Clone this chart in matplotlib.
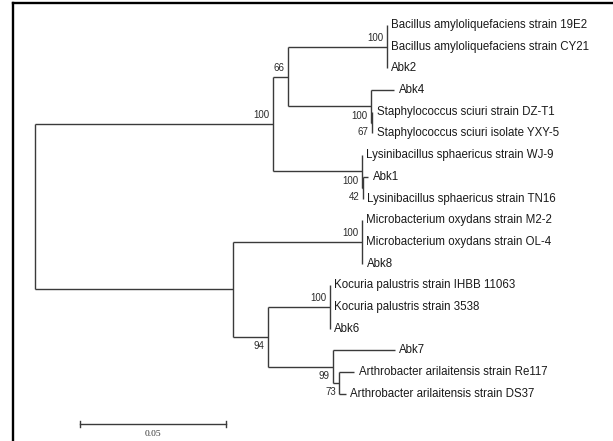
import matplotlib
matplotlib.use('Agg')
from matplotlib import pyplot as plt
from matplotlib.lines import Line2D

# leaves, top to bottom
leaf_names = [
    'Bacillus amyloliquefaciens strain 19E2',
    'Bacillus amyloliquefaciens strain CY21',
    'Abk2',
    'Abk4',
    'Staphylococcus sciuri strain DZ-T1',
    'Staphylococcus sciuri isolate YXY-5',
    'Lysinibacillus sphaericus strain WJ-9',
    'Abk1',
    'Lysinibacillus sphaericus strain TN16',
    'Microbacterium oxydans strain M2-2',
    'Microbacterium oxydans strain OL-4',
    'Abk8',
    'Kocuria palustris strain IHBB 11063',
    'Kocuria palustris strain 3538',
    'Abk6',
    'Abk7',
    'Arthrobacter arilaitensis strain Re117',
    'Arthrobacter arilaitensis strain DS37',
]
leaf_parent = ['bac', 'bac', 'bac', 'sta', 'sta2', 'sta2', 'lys', 'lys2', 'lys2',
               'mic', 'mic', 'mic', 'koc', 'koc', 'koc', 'n99', 'art', 'art']
leaf_length = [0, 0, 0, 0.0079, 0, 0, 0, 0.0018, 0,
               0, 0, 0, 0, 0, 0, 0.0212, 0.0050, 0.0022]

# internal nodes (parents listed before children)
node_names = ['root', 'up', 'n66', 'bac', 'sta', 'sta2', 'lys', 'lys2',
              'low', 'mic', 'n94', 'koc', 'n99', 'art']
node_parent = [None, 'root', 'up', 'n66', 'n66', 'sta', 'up', 'lys',
               'root', 'low', 'low', 'n94', 'n94', 'n99']
node_length = [0, 0.0814, 0.0052, 0.0338, 0.0284, 0.0004, 0.0305, 0.0003,
               0.0678, 0.0441, 0.0119, 0.0212, 0.0223, 0.0022]
bootstrap = [None, 100, 66, 100, 100, 67, 100, 42,
             None, 100, 94, 100, 99, 73]
label_side = [None, 'above', 'above', 'above', 'below', 'below', 'below', 'below',
              None, 'above', 'below', 'above', 'below', 'below']

scale_len = 0.05

# ---- layout: x = distance from root, y = leaf row
px = 2920.0  # pixels per unit distance
xs = {}
for n, p, l in zip(node_names, node_parent, node_length):
    xs[n] = 0.0 if p is None else xs[p] + l
children = {n: [] for n in node_names}
for n, p in zip(node_names, node_parent):
    if p is not None:
        children[p].append(n)
leaf_x = []
leaf_y = list(range(len(leaf_names)))
for i, (p, l) in enumerate(zip(leaf_parent, leaf_length)):
    leaf_x.append(xs[p] + l)
    children[p].append(('leaf', i))

ys = {}
def node_y(n):
    if n in ys:
        return ys[n]
    vals = []
    for c in children[n]:
        vals.append(leaf_y[c[1]] if isinstance(c, tuple) else node_y(c))
    ys[n] = (min(vals) + max(vals)) / 2.0
    return ys[n]
for n in node_names:
    node_y(n)

fig = plt.figure(figsize=(6.13, 4.41), dpi=100)
ax = fig.add_axes([0, 0, 1, 1])
ax.set_xlim(-35 / px, (613 - 35) / px)
row = 21.7
ax.set_ylim((441 - 25) / row, -25 / row)
ax.axis('off')

lc = '#3a3a3a'
lw = 1.0

# vertical lines at internal nodes
for n in node_names:
    vals = []
    for c in children[n]:
        vals.append(leaf_y[c[1]] if isinstance(c, tuple) else ys[c])
    ax.plot([xs[n], xs[n]], [min(vals), max(vals)], color=lc, lw=lw,
            solid_capstyle='butt')
# horizontal branches
for n, p in zip(node_names, node_parent):
    if p is not None:
        ax.plot([xs[p], xs[n]], [ys[n], ys[n]], color=lc, lw=lw,
                solid_capstyle='butt')
for i, p in enumerate(leaf_parent):
    if leaf_x[i] > xs[p]:
        ax.plot([xs[p], leaf_x[i]], [leaf_y[i], leaf_y[i]], color=lc, lw=lw,
                solid_capstyle='butt')

# leaf labels
for i, name in enumerate(leaf_names):
    ax.annotate(name, (leaf_x[i], leaf_y[i]), xytext=(3.4, 0),
                textcoords='offset points', ha='left', va='center',
                fontsize=8.3, family='Liberation Sans', color='#1a1a1a')

# bootstrap values
for n, b, side in zip(node_names, bootstrap, label_side):
    if b is None:
        continue
    dy = 6.5 if side == 'above' else -6.8
    ax.annotate(str(b), (xs[n], ys[n]), xytext=(-2.4, dy),
                textcoords='offset points', ha='right', va='center',
                fontsize=7.0, family='Liberation Sans', color='#2a2a2a')

# scale bar
sx = 45 / px
sy = (424 - 25) / row
ax.plot([sx, sx + scale_len], [sy, sy], color=lc, lw=lw)
for xx in (sx, sx + scale_len):
    ax.plot([xx, xx], [sy - 0.12, sy + 0.12], color=lc, lw=lw)
ax.text(sx + scale_len / 2, sy + 0.45, '%.2f' % scale_len, ha='center',
        va='center', fontsize=6.8, family='Liberation Serif', color='#333333')

# frame (top and left only)
fig.add_artist(Line2D([13 / 613, 1], [1 - 3 / 441, 1 - 3 / 441],
                      color='black', lw=1.7, transform=fig.transFigure))
fig.add_artist(Line2D([13 / 613, 13 / 613], [0, 1 - 3 / 441],
                      color='black', lw=1.7, transform=fig.transFigure))

plt.savefig('out.png', dpi=100)
plt.close()
